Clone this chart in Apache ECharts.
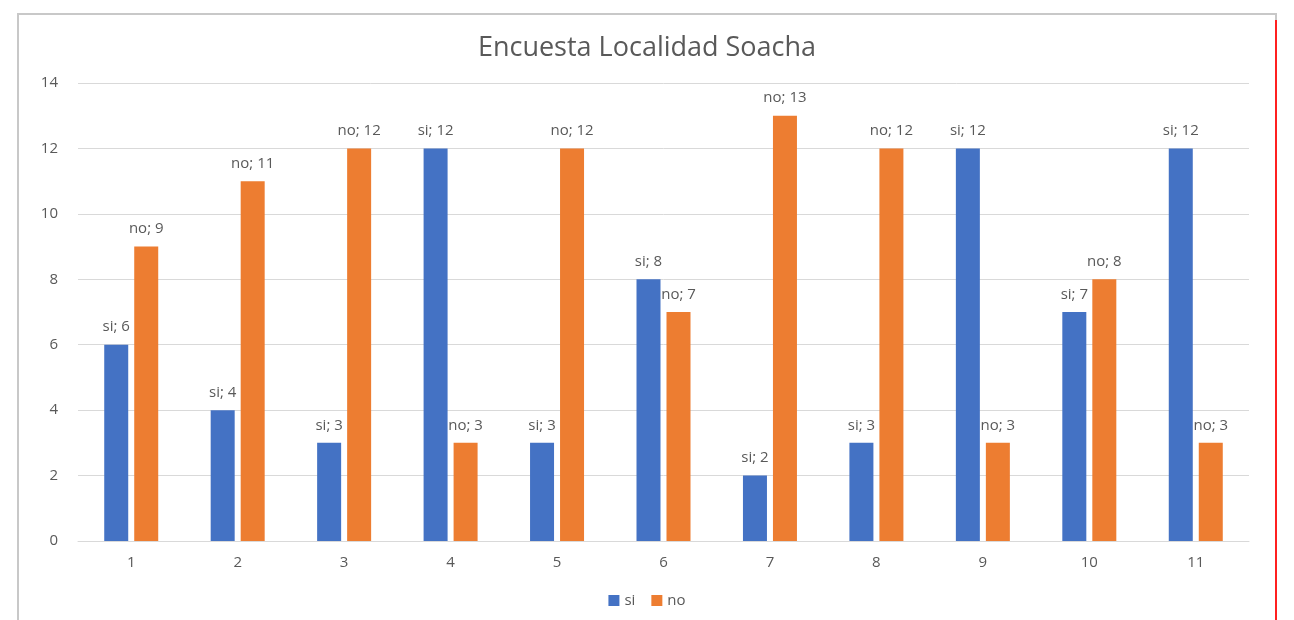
<!DOCTYPE html>
<html>
<head>
<meta charset="utf-8">
<script src="https://cdn.jsdelivr.net/npm/echarts@6/dist/echarts.min.js"></script>
<style>
html,body{margin:0;padding:0;background:#fff;}
#c{width:1294px;height:620px;}
</style>
</head>
<body>
<div id="c"></div>
<script>
const categories = ['1','2','3','4','5','6','7','8','9','10','11'];
const siValues = [6,4,3,12,3,8,2,3,12,7,12];
const noValues = [9,11,12,3,12,7,13,12,3,8,3];
const titleText = 'Encuesta Localidad Soacha';

const chart = echarts.init(document.getElementById('c'));
const labelColor = '#595959';
function mkLabel(name){
  return {
    show: true, position: 'top', distance: 10,
    color: labelColor, fontSize: 15, fontFamily: 'Open Sans, sans-serif',
    formatter: p => name + '; ' + p.value
  };
}
chart.setOption({
  backgroundColor: '#fff',
  animation: false,
  title: {
    text: titleText, left: 'center', top: 30,
    textStyle: {color: labelColor, fontSize: 27, fontWeight: 'normal', fontFamily: 'Open Sans, sans-serif', letterSpacing: 1.3}
  },
  legend: {
    bottom: 7, left: 'center', itemWidth: 11, itemHeight: 11, itemGap: 16,
    icon: 'rect',
    textStyle: {color: labelColor, fontSize: 15, fontFamily: 'Open Sans, sans-serif'},
    data: ['si','no']
  },
  grid: {left: 78, right: 45, top: 83, bottom: 79, containLabel: false},
  xAxis: {
    type: 'category', data: categories,
    axisLine: {lineStyle: {color: '#D9D9D9'}},
    axisTick: {show: false},
    axisLabel: {color: labelColor, fontSize: 15, margin: 14, fontFamily: 'Open Sans, sans-serif'}
  },
  yAxis: {
    type: 'value', min: 0, max: 14, interval: 2,
    axisLine: {show: false}, axisTick: {show: false},
    splitLine: {lineStyle: {color: '#D9D9D9'}},
    axisLabel: {color: labelColor, fontSize: 15, margin: 20, fontFamily: 'Open Sans, sans-serif'}
  },
  graphic: [
    {type: 'rect', shape: {x: 18, y: 14, width: 1258, height: 620}, style: {fill: 'none', stroke: '#C8C8C8', lineWidth: 2}, silent: true},
    {type: 'line', shape: {x1: 1276, y1: 20, x2: 1276, y2: 620}, style: {stroke: '#FF2020', lineWidth: 2}, silent: true}
  ],
  series: [
    {name: 'si', type: 'bar', data: siValues, barWidth: 24, barGap: '25%',
     itemStyle: {color: '#4472C4'}, label: mkLabel('si')},
    {name: 'no', type: 'bar', data: noValues, barWidth: 24, barGap: '25%',
     itemStyle: {color: '#ED7D31'}, label: mkLabel('no')}
  ]
});
</script>
</body>
</html>
